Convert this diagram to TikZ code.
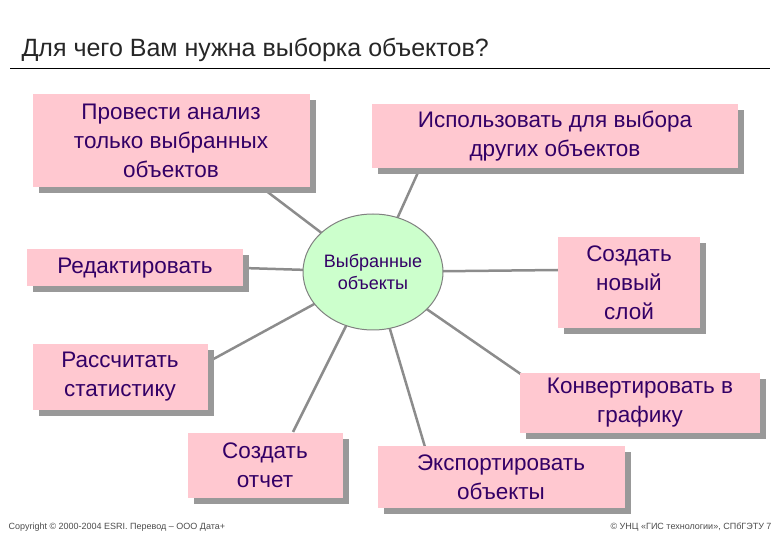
\documentclass[tikz,border=0pt]{standalone}
\usepackage{fontspec}
\setmainfont{Liberation Sans}
\usetikzlibrary{shadows,shapes.geometric}
\definecolor{txt}{HTML}{330066}
\definecolor{pinkb}{HTML}{FFC8D0}
\definecolor{circ}{HTML}{CCFFCC}
\begin{document}
\begin{tikzpicture}[x=1pt,y=-1pt,
 box/.style={fill=pinkb,align=center,text=txt,font=\fontsize{22.5}{29}\selectfont,inner sep=0pt,
   drop shadow={shadow xshift=6pt,shadow yshift=-6pt,fill=gray!80,opacity=1}},
 conn/.style={draw=gray!90,line width=2.5pt}]
\useasboundingbox (0,0) rectangle (780,540);
\node[anchor=west,font=\fontsize{25}{28}\selectfont,text=black!85] (title) at (18,50) {Для чего Вам нужна выборка объектов?};
\draw[line width=1pt] (10,69) -- (770,69);
\coordinate (c) at (373,272);
\coordinate (e1) at (265,190); \coordinate (e2) at (420,168);
\coordinate (e3) at (243,268); \coordinate (e5) at (558,270);
\coordinate (e6) at (208,362); \coordinate (e7) at (525,377);
\coordinate (e8) at (293,432); \coordinate (e9) at (425,447);
\foreach \e in {e1,e2,e3,e5,e6,e7,e8,e9} \draw[conn] (c) -- (\e);
\node[box,minimum width=277pt,minimum height=93pt] (b1) at (171,141) {Провести анализ\\только выбранных\\объектов};
\node[box,minimum width=366pt,minimum height=64pt] (b2) at (555,136) {Использовать для выбора\\других объектов};
\node[box,minimum width=216pt,minimum height=37pt] (b3) at (135,268) {Редактировать};
\node[box,minimum width=142pt,minimum height=91pt] (b5) at (629,283) {Создать\\новый\\слой};
\node[box,minimum width=175pt,minimum height=65pt] (b6) at (120,377) {Рассчитать\\статистику};
\node[box,minimum width=240pt,minimum height=60pt] (b7) at (640,403) {Конвертировать в\\графику};
\node[box,minimum width=155pt,minimum height=65pt] (b8) at (265,465) {Создать\\отчет};
\node[box,minimum width=247pt,minimum height=62pt] (b9) at (501,477) {Экспортировать\\объекты};
\node[draw=gray,line width=1pt,fill=circ,ellipse,minimum width=140pt,minimum height=116pt,inner sep=0pt,align=center,text=txt,font=\fontsize{18}{22}\selectfont] (ctr) at (c) {Выбранные\\объекты};
\node[anchor=west,font=\fontsize{9}{10}\selectfont,text=black!70] (cp) at (5,527) {Copyright © 2000-2004 ESRI. Перевод – ООО Дата+};
\node[anchor=east,font=\fontsize{9}{10}\selectfont,text=black!70] (cp2) at (775,527) {© УНЦ «ГИС технологии», СПбГЭТУ 7};
\end{tikzpicture}
\end{document}
